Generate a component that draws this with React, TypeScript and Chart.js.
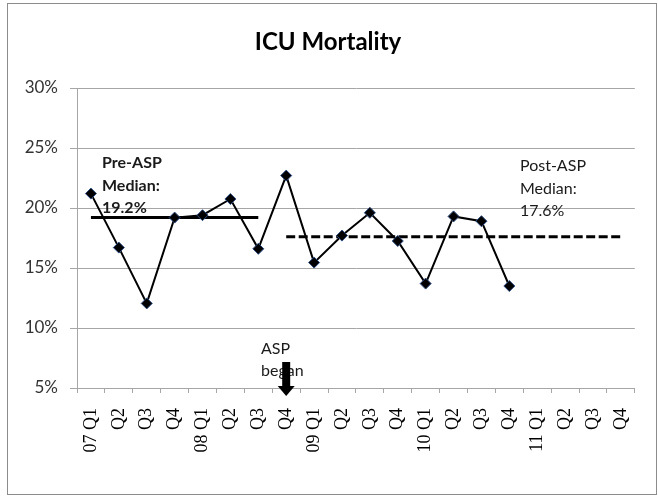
import React, { useEffect, useRef } from "react";
import { Chart, registerables } from "chart.js";

Chart.register(...registerables);

const categories = [
  "07 Q1", "Q2", "Q3", "Q4",
  "08 Q1", "Q2", "Q3", "Q4",
  "09 Q1", "Q2", "Q3", "Q4",
  "10 Q1", "Q2", "Q3", "Q4",
  "11 Q1", "Q2", "Q3", "Q4",
];

const mortality: (number | null)[] = [
  21.2, 16.7, 12.05, 19.2,
  19.4, 20.75, 16.6, 22.7,
  15.45, 17.7, 19.6, 17.25,
  13.7, 19.3, 18.9, 13.5,
  null, null, null, null,
];

const preMedian = 19.2;
const postMedian = 17.6;
const preStart = 0;
const preEnd = 6;
const postStart = 7;
const postEnd = 19;
const aspIndex = 7;

const yTicks = [5, 10, 15, 20, 25, 30];

const preLine = categories.map((_, i) => (i >= preStart && i <= preEnd ? preMedian : null));
const postLine = categories.map((_, i) => (i >= postStart && i <= postEnd ? postMedian : null));

const SANS = "Lato, 'Noto Sans', sans-serif";
const SERIF = "'Liberation Serif', 'DejaVu Serif', serif";

const decorPlugin = {
  id: "decor",
  beforeDraw(chart: any) {
    const ctx = chart.ctx;
    ctx.save();
    ctx.fillStyle = "#ffffff";
    ctx.fillRect(0, 0, chart.width, chart.height);
    ctx.strokeStyle = "#8c8c8c";
    ctx.lineWidth = 1;
    ctx.strokeRect(7.5, 3.5, 649, 491);
    ctx.restore();
  },
  afterDraw(chart: any) {
    const ctx = chart.ctx;
    const x = chart.scales.x;
    const y = chart.scales.y;
    ctx.save();
    // title
    ctx.fillStyle = "#000";
    ctx.textAlign = "center";
    ctx.textBaseline = "middle";
    ctx.font = `bold 24px ${SANS}`;
    ctx.fillText("ICU Mortality", 328, 42);

    // pre annotation
    ctx.textAlign = "left";
    ctx.font = `bold 16px ${SANS}`;
    ctx.fillStyle = "#1a1a1a";
    const px = 102;
    ctx.fillText("Pre-ASP", px, 163);
    ctx.fillText("Median:", px, 186);
    ctx.fillText(`${preMedian}%`, px, 208);

    // post annotation
    ctx.font = `16px ${SANS}`;
    const qx = 520;
    ctx.fillText("Post-ASP", qx, 166);
    ctx.fillText("Median:", qx, 189);
    ctx.fillText(`${postMedian}%`, qx, 211);

    // ASP began
    ctx.font = `16px ${SANS}`;
    ctx.fillText("ASP", 261, 349);
    ctx.fillText("began", 261, 371);

    // arrow
    const ax = x.getPixelForValue(aspIndex);
    const base = y.getPixelForValue(yTicks[0]);
    ctx.fillStyle = "#000";
    ctx.fillRect(ax - 4, 362, 8, base - 362 - 1);
    ctx.beginPath();
    ctx.moveTo(ax - 8.5, base - 2);
    ctx.lineTo(ax + 8.5, base - 2);
    ctx.lineTo(ax, base + 8);
    ctx.closePath();
    ctx.fill();
    ctx.restore();
  },
};

export default function App() {
  const ref = useRef<HTMLCanvasElement | null>(null);

  useEffect(() => {
    if (!ref.current) return;
    const chart = new Chart(ref.current, {
      type: "line",
      data: {
        labels: categories,
        datasets: [
          {
            label: "ICU Mortality",
            data: mortality,
            borderColor: "#000",
            borderWidth: 2,
            backgroundColor: "#000",
            pointStyle: "rectRot",
            pointRadius: 5.5,
            pointBorderColor: "#2a4a80",
            pointBorderWidth: 1,
            pointBackgroundColor: "#000",
            tension: 0,
            spanGaps: false,
          },
          {
            label: "Pre-ASP Median",
            data: preLine,
            borderColor: "#000",
            borderWidth: 3,
            pointRadius: 0,
            fill: false,
          },
          {
            label: "Post-ASP Median",
            data: postLine,
            borderColor: "#000",
            borderWidth: 3,
            borderDash: [9, 3.5],
            pointRadius: 0,
            fill: false,
          },
        ],
      },
      options: {
        responsive: false,
        animation: false,
        layout: { padding: { top: 88, right: 20, left: 0, bottom: 0 } },
        plugins: {
          legend: { display: false },
          title: { display: false },
          tooltip: { enabled: false },
        },
        scales: {
          x: {
            type: "category",
            offset: true,
            grid: {
              display: true,
              offset: true,
              drawOnChartArea: false,
              drawTicks: true,
              tickLength: 5,
              color: "#a6a6a6",
            },
            border: { color: "#a6a6a6" },
            ticks: {
              autoSkip: false,
              maxRotation: 90,
              minRotation: 90,
              padding: 15,
              color: "#000",
              font: { family: SERIF, size: 18 },
            },
            afterFit(scale: any) {
              scale.height = 108;
            },
          },
          y: {
            min: 5,
            max: 30,
            afterBuildTicks(scale: any) {
              scale.ticks = yTicks.map((v) => ({ value: v }));
            },
            grid: {
              color: "#a6a6a6",
              tickLength: 7,
            },
            border: { color: "#a6a6a6" },
            ticks: {
              padding: 12,
              color: "#333",
              font: { family: SANS, size: 17 },
              callback: (v: any) => `${v}%`,
            },
            afterFit(scale: any) {
              scale.width = 77;
            },
          },
        },
      },
      plugins: [decorPlugin],
    });
    return () => chart.destroy();
  }, []);

  return (
    <div style={{ position: "absolute", left: 0, top: 0, width: 658, height: 496 }}>
      <canvas ref={ref} width={658} height={496} style={{ display: "block" }} />
    </div>
  );
}
